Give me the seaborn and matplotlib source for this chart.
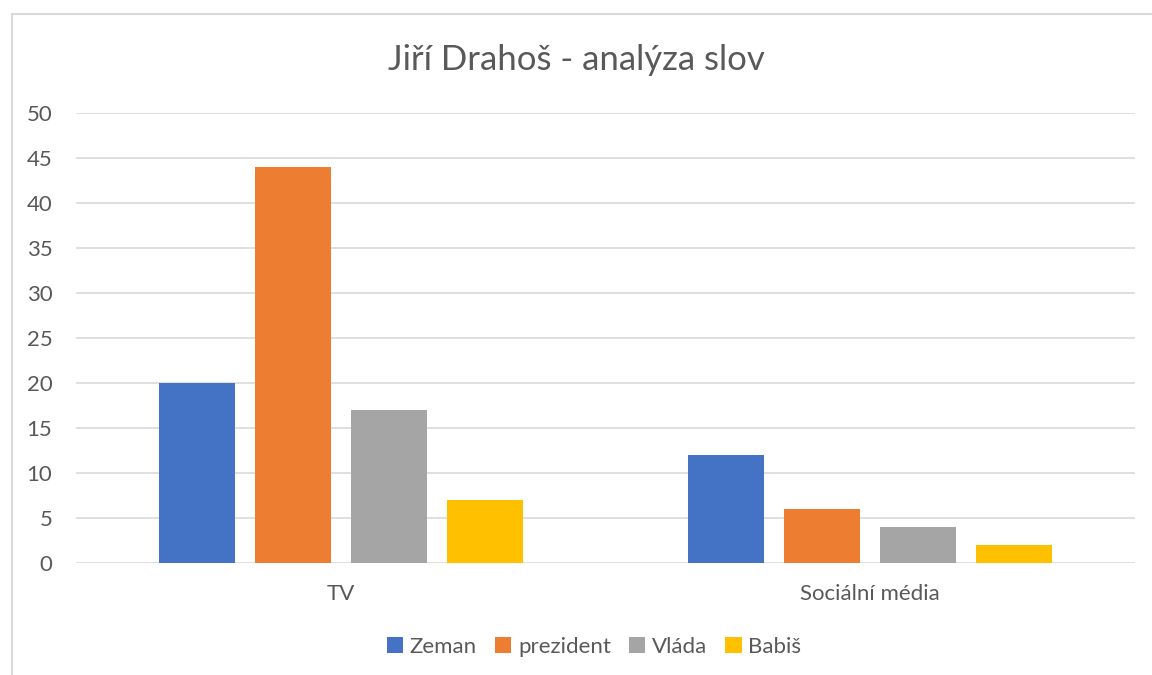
import pandas as pd
import seaborn as sns
import matplotlib.pyplot as plt
from matplotlib.patches import Rectangle

# data
categories = ["TV", "Sociální média"]
series = ["Zeman", "prezident", "Vláda", "Babiš"]
zeman = [20, 12]
prezident = [44, 6]
vlada = [17, 4]
babis = [7, 2]

colors = ["#4472C4", "#ED7D31", "#A5A5A5", "#FFC000"]
text_col = "#595959"
grid_col = "#D9D9D9"

rows = []
for name, vals in zip(series, [zeman, prezident, vlada, babis]):
    for cat, v in zip(categories, vals):
        rows.append({"kategorie": cat, "slovo": name, "pocet": v})
df = pd.DataFrame(rows)

sns.set_style("white")
plt.rcParams["font.family"] = ["Lato", "DejaVu Sans"]

fig = plt.figure(figsize=(11.52, 6.75), dpi=100)
ax = fig.add_axes([76 / 1152, 1 - 563 / 675, (1135 - 76) / 1152, (563 - 113) / 675])

sns.barplot(
    data=df, x="kategorie", y="pocet", hue="slovo",
    order=categories, hue_order=series, palette=colors,
    width=0.725, gap=0.21, saturation=1, linewidth=0, ax=ax, zorder=3
)

ax.set_ylim(0, 50)
ax.set_xlim(-0.5, 1.5)
ax.set_yticks(range(0, 51, 5))
ax.grid(axis="y", color=grid_col, linewidth=1.2, zorder=0)
ax.set_axisbelow(True)
for s in ax.spines.values():
    s.set_visible(False)
ax.tick_params(axis="both", length=0, labelsize=16, colors=text_col)
ax.tick_params(axis="y", pad=17)
ax.tick_params(axis="x", pad=15)
ax.set_xlabel("")
ax.set_ylabel("")

fig.text(0.5, 1 - 60 / 675, "Jiří Drahoš - analýza slov", ha="center", va="center",
         fontsize=25, color=text_col)

leg = ax.legend(loc="center", bbox_to_anchor=((594 - 76) / 1059, -84 / 450),
                ncol=4, frameon=False, fontsize=16, handlelength=0.75, handleheight=0.75,
                handletextpad=0.3, columnspacing=0.8)
for t in leg.get_texts():
    t.set_color(text_col)

# outer chart border (cropped at right and bottom)
fig.patches.append(Rectangle((11.5 / 1152, -0.1), 1.2, 1 - 14.5 / 675 + 0.1,
                             transform=fig.transFigure, fill=False,
                             edgecolor=grid_col, linewidth=1.5))

plt.savefig("out.png", dpi=100)
